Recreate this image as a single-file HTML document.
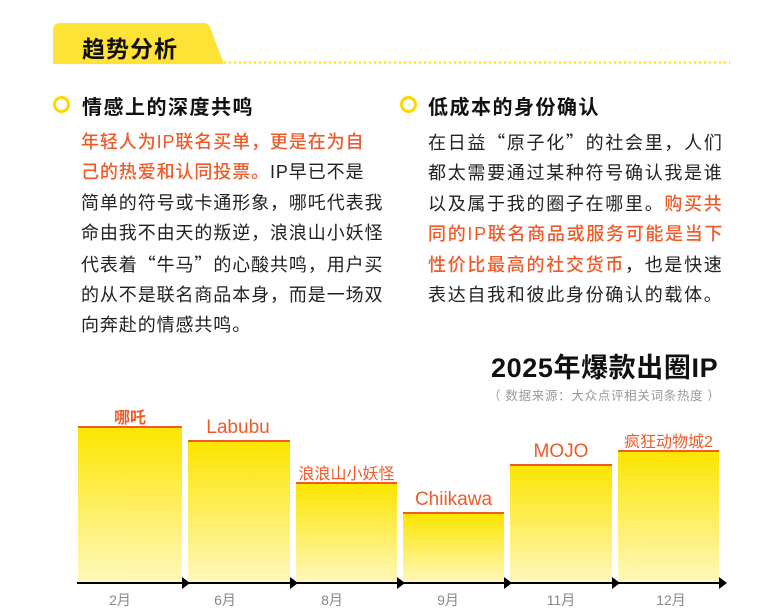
<!DOCTYPE html>
<html><head><meta charset="utf-8"><style>
body{margin:0;width:778px;height:610px;background:#fff;overflow:hidden;position:relative;font-family:"Liberation Sans","Noto Sans CJK SC",sans-serif;}
.abs{position:absolute;white-space:nowrap}
.p{font-size:18px;letter-spacing:0.9px;color:#222;line-height:30.4px}
.q{font-family:"Noto Sans CJK SC",sans-serif}
.o{color:#F05A28;font-weight:500}
.h{font-size:20px;font-weight:bold;color:#111;letter-spacing:1.5px}
.c{position:absolute;width:11px;height:11px;border:3.5px solid #FCD800;border-radius:50%}
.bar{position:absolute;background:linear-gradient(#FCE500,#FFF8BE);border-top:2px solid #F05A28;bottom:27px}
.lab{position:absolute;color:#F05A28;font-size:19px;text-align:center;white-space:nowrap}
.m{position:absolute;top:590px;color:#888;font-size:14px;text-align:center;width:60px}
</style></head><body>
<svg class="abs" style="left:0;top:0" width="778" height="80">
<path d="M53 64 L53 30 Q53 23 60 23 L204 23 Q208 23 210 27 L224 64 Z" fill="#FFE236"/>
<line x1="224" y1="62.5" x2="730" y2="62.5" stroke="#FCD800" stroke-width="2" stroke-dasharray="2 3"/>
</svg>
<div class="abs" style="left:82px;top:30px;font-size:23px;font-weight:bold;color:#111;letter-spacing:1px">趋势分析</div>

<div class="c" style="left:53px;top:96px"></div>
<div class="abs h" style="left:82px;top:91px">情感上的深度共鸣</div>
<div class="abs p" style="left:81px;top:127px"><span class="o">年轻人为IP联名买单，更是在为自<br>己的热爱和认同投票。</span>IP早已不是<br>简单的符号或卡通形象，哪吒代表我<br>命由我不由天的叛逆，浪浪山小妖怪<br>代表着<span class="q">“</span>牛马<span class="q">”</span>的心酸共鸣，用户买<br>的从不是联名商品本身，而是一场双<br>向奔赴的情感共鸣。</div>

<div class="c" style="left:400px;top:96px"></div>
<div class="abs h" style="left:428px;top:91px">低成本的身份确认</div>
<div class="abs p" style="left:428px;top:127px;letter-spacing:1.7px">在日益<span class="q">“</span>原子化<span class="q">”</span>的社会里，人们<br>都太需要通过某种符号确认我是谁<br>以及属于我的圈子在哪里。<span class="o">购买共<br>同的IP联名商品或服务可能是当下<br>性价比最高的社交货币</span>，也是快速<br>表达自我和彼此身份确认的载体。</div>

<div class="abs" style="left:491px;top:346px;font-size:27px;font-weight:bold;color:#111;letter-spacing:0.6px">2025年爆款出圈IP</div>
<div class="abs" style="left:488px;top:385px;font-size:12.5px;color:#999;letter-spacing:0.7px">（ 数据来源：大众点评相关词条热度 ）</div>

<div class="bar" style="left:78px;width:104px;top:426px"></div>
<div class="bar" style="left:188px;width:102px;top:440px"></div>
<div class="bar" style="left:296px;width:101px;top:482px"></div>
<div class="bar" style="left:403px;width:101px;top:512px"></div>
<div class="bar" style="left:510px;width:102px;top:464px"></div>
<div class="bar" style="left:618px;width:101px;top:450px"></div>

<div class="lab" style="left:78px;width:104px;top:404px;font-size:16px;font-weight:bold">哪吒</div>
<div class="lab" style="left:188px;width:100px;top:417px">Labubu</div>
<div class="lab" style="left:296px;width:101px;top:460px;font-size:16px">浪浪山小妖怪</div>
<div class="lab" style="left:403px;width:101px;top:489px">Chiikawa</div>
<div class="lab" style="left:510px;width:102px;top:441px">MOJO</div>
<div class="lab" style="left:618px;width:101px;top:428px;font-size:16px">疯狂动物城2</div>

<svg class="abs" style="left:0;top:570px" width="778" height="25">
<line x1="77" y1="13" x2="722" y2="13" stroke="#000" stroke-width="2"/>
<path d="M182 7 L190 13 L182 19Z M290 7 L298 13 L290 19Z M397 7 L405 13 L397 19Z M504 7 L512 13 L504 19Z M612 7 L620 13 L612 19Z M719 7 L727 13 L719 19Z" fill="#000"/>
</svg>
<div class="m" style="left:90px">2月</div>
<div class="m" style="left:195px">6月</div>
<div class="m" style="left:302px">8月</div>
<div class="m" style="left:418px">9月</div>
<div class="m" style="left:531px">11月</div>
<div class="m" style="left:641px">12月</div>
</body></html>
